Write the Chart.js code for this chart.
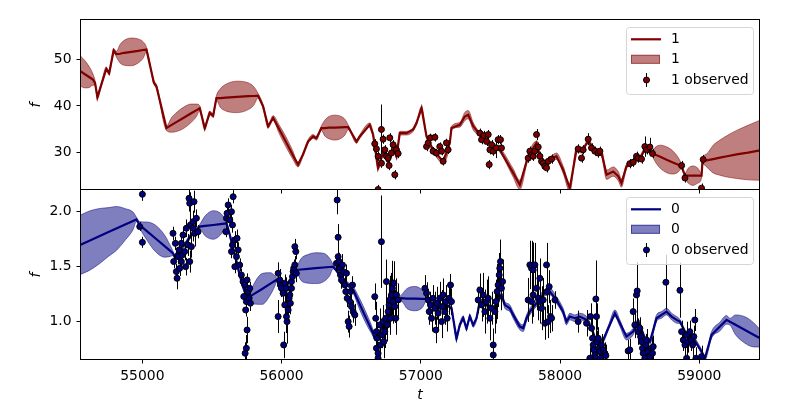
<!DOCTYPE html>
<html>
<head>
<meta charset="utf-8">
<script src="https://cdn.jsdelivr.net/npm/chart.js@4.4.1/dist/chart.umd.min.js"></script>
<style>
  html, body { margin: 0; padding: 0; background: #fff; }
  #wrap { position: relative; width: 800px; height: 400px; }
  #wrap canvas { position: absolute; left: 0; top: 0; }
</style>
</head>
<body>
<div id="wrap">
  <canvas id="top" width="800" height="400"></canvas>
  <canvas id="bottom" width="800" height="400"></canvas>
</div>
<script>
// ── axes ─────────────────────────────────────────────
const xMin = 54552, xMax = 59436;
const xTicks = [55000, 56000, 57000, 58000, 59000];
const xTickLabels = ['55000', '56000', '57000', '58000', '59000'];

const yRange1 = [21.8, 58.6];
const yTicks1 = [30, 40, 50];
const yTickLabels1 = ['30', '40', '50'];

const yRange0 = [0.648, 2.194];
const yTicks0 = [1.0, 1.5, 2.0];
const yTickLabels0 = ['1.0', '1.5', '2.0'];

// ── series "1" (top) : fitted mean and spread ────────
const fitT1 = [
  54552, 54590, 54620, 54645, 54660, 54677, 54705, 54741, 54761, 54794,
  54813, 54840, 54870, 54921, 54970, 55005, 55029, 55082, 55101, 55173,
  55210, 55250, 55300, 55350, 55390, 55412, 55448, 55484, 55508, 55532,
  55560, 55600, 55680, 55760, 55800, 55831, 55867, 55903, 55939, 55980,
  56030, 56080, 56118, 56154, 56190, 56226, 56250, 56286, 56310, 56340,
  56382, 56425, 56455, 56478, 56538, 56562, 56633, 56657, 56693, 56729,
  56765, 56801, 56825, 56849, 56897, 56945, 56969, 57005, 57041, 57088,
  57160, 57208, 57220, 57280, 57316, 57340, 57376, 57424, 57496, 57567,
  57663, 57711, 57771, 57831, 57855, 57891, 57927, 57974, 58022, 58070,
  58118, 58154, 58202, 58250, 58298, 58334, 58382, 58418, 58441, 58477,
  58525, 58573, 58609, 58657, 58690, 58720, 58765, 58810, 58845, 58873,
  58897, 58920, 58956, 58990, 59016, 59023, 59052, 59100, 59148, 59200,
  59268, 59350, 59436
];
const fitMean1 = [
  47.6, 46.8, 46.2, 45.7, 45.0, 41.9, 44.6, 48.0, 47.1, 52.0,
  51.2, 51.3, 51.5, 51.7, 51.9, 52.1, 52.2, 45.1, 44.2, 35.2,
  35.9, 36.6, 37.5, 38.4, 39.1, 39.5, 35.2, 38.5, 37.9, 41.7,
  41.7, 41.8, 41.95, 42.1, 42.15, 42.2, 39.9, 35.6, 37.4, 35.1,
  32.3, 29.4, 27.3, 29.5, 32.3, 33.4, 33.0, 35.2, 35.2, 35.3,
  35.3, 35.35, 35.4, 35.4, 32.3, 33.4, 35.9, 33.8, 26.6, 29.8,
  28.0, 31.2, 29.1, 34.1, 34.1, 34.9, 36.3, 39.5, 33.4, 30.5,
  28.0, 32.0, 35.2, 35.9, 37.7, 38.1, 35.6, 33.8, 32.0, 30.5,
  25.5, 22.9, 29.1, 32.0, 29.1, 27.3, 28.4, 29.1, 26.2, 22.2,
  30.5, 30.2, 32.3, 30.5, 29.8, 25.1, 25.8, 24.8, 23.3, 26.9,
  28.0, 28.7, 30.5, 29.8, 29.4, 29.0, 28.35, 27.75, 27.3, 26.9,
  24.9, 24.9, 24.9, 24.9, 24.9, 28.0, 28.2, 28.5, 28.8, 29.1,
  29.5, 29.9, 30.4
];
const fitSd1 = [
  3.3, 2.9, 2.2, 1.2, 0.5, 0.4, 0.4, 0.4, 0.4, 0.4,
  0.6, 2.0, 2.7, 3.0, 2.6, 1.8, 0.5, 0.4, 0.4, 0.5,
  1.6, 2.1, 2.3, 2.0, 1.3, 0.5, 0.4, 0.4, 0.4, 0.5,
  2.0, 2.9, 3.4, 2.9, 2.0, 0.5, 0.4, 0.4, 0.5, 0.9,
  1.1, 0.9, 0.5, 0.4, 0.4, 0.4, 0.4, 0.5, 1.7, 2.4,
  2.7, 2.4, 1.7, 0.5, 0.4, 0.4, 0.4, 0.4, 0.4, 0.4,
  0.4, 0.4, 0.4, 0.4, 0.4, 0.4, 0.4, 0.4, 0.4, 0.4,
  0.4, 0.4, 0.4, 0.5, 0.9, 0.9, 0.8, 0.4, 0.4, 0.5,
  0.9, 1.0, 0.5, 0.4, 0.4, 0.4, 0.4, 0.7, 0.8, 0.8,
  0.5, 0.4, 0.4, 0.4, 0.7, 1.0, 1.0, 1.0, 0.9, 0.5,
  0.4, 0.4, 0.4, 0.5, 1.8, 2.5, 2.8, 2.5, 1.7, 0.5,
  0.5, 1.6, 2.1, 1.6, 0.5, 0.5, 1.4, 3.0, 3.8, 4.5,
  5.2, 5.9, 6.5
];

// ── series "1" observations ──────────────────────────
const obsT1 = [
  56669, 56681, 56693, 56693, 56717, 56717, 56729, 56741, 56753, 56765,
  56772, 56777, 56789, 56801, 56813, 56825, 56837,
  57041, 57053, 57069, 57088, 57101, 57112, 57136, 57149, 57160, 57184, 57196,
  57424, 57436, 57452, 57472, 57484, 57491, 57496, 57508, 57520, 57543,
  57555, 57572, 57579,
  57771, 57783, 57795, 57807, 57819, 57831, 57843, 57855, 57867, 57879,
  57891, 57903, 57915, 57939,
  58130, 58154, 58166, 58202, 58226, 58250, 58274, 58286,
  58501, 58525, 58549, 58561, 58585, 58609, 58621, 58645, 58664,
  58873, 58897, 59016, 59028
];
const obsF1 = [
  31.8, 30.7, 29.1, 21.9, 34.9, 27.6, 32.8, 30.5, 29.1, 28.7,
  27.1, 33.1, 29.8, 31.6, 25.1, 30.5, 29.7,
  31.2, 32.0, 33.1, 30.2, 33.2, 29.8, 31.2, 30.2, 28.0, 32.0, 30.5,
  34.1, 32.7, 33.6, 32.3, 33.8, 27.3, 30.5, 31.6, 30.2, 30.9,
  32.7, 32.7, 30.9,
  28.7, 30.2, 29.4, 29.1, 30.2, 33.8, 31.1, 29.1, 28.0, 27.6,
  26.9, 26.6, 28.0, 28.5,
  30.7, 28.7, 30.5, 32.8, 30.9, 30.2, 29.8, 30.2,
  27.5, 27.8, 29.1, 28.7, 28.5, 31.2, 30.5, 31.1, 29.7,
  27.1, 24.4, 22.2, 28.4
];
const obsErr1 = [
  1.0, 1.2, 1.0, 1.0, 5.4, 1.0, 1.0, 1.0, 1.2, 1.0,
  1.0, 1.0, 1.0, 1.0, 1.0, 1.0, 1.0,
  1.0, 0.9, 0.9, 0.9, 0.9, 0.9, 0.9, 0.9, 0.9, 0.9, 0.9,
  1.0, 1.0, 1.0, 1.0, 1.0, 1.0, 1.0, 1.0, 1.0, 2.2,
  1.0, 1.0, 1.0,
  1.0, 1.0, 1.0, 1.0, 1.0, 1.2, 1.0, 1.0, 1.0, 1.0,
  1.0, 1.0, 1.0, 1.0,
  1.0, 1.0, 1.0, 1.3, 1.0, 1.0, 1.0, 1.0,
  1.0, 1.0, 1.0, 1.0, 1.0, 2.2, 1.0, 2.0, 1.0,
  1.0, 1.0, 1.0, 1.0
];

// ── series "0" (bottom) : fitted mean and spread ─────
const fitT0 = [
  54552, 54620, 54694, 54760, 54813, 54880, 54933, 54957, 54981, 55030,
  55093, 55160, 55200, 55220, 55232, 55268, 55304, 55328, 55352, 55388,
  55412, 55450, 55510, 55560, 55590, 55604, 55628, 55652, 55676, 55699,
  55735, 55771, 55800, 55860, 55920, 55950, 55963, 55987, 56023, 56059,
  56083, 56106, 56140, 56190, 56244, 56300, 56345, 56370, 56418, 56466,
  56514, 56560, 56610, 56657, 56669, 56693, 56729, 56765, 56801, 56837,
  56861, 56900, 56962, 57010, 57041, 57088, 57136, 57184, 57220, 57256,
  57280, 57304, 57328, 57352, 57376, 57400, 57424, 57472, 57520, 57555,
  57579, 57603, 57639, 57663, 57711, 57735, 57759, 57783, 57840, 57890,
  57927, 57974, 58022, 58046, 58070, 58106, 58142, 58190, 58226, 58262,
  58310, 58346, 58394, 58430, 58477, 58525, 58561, 58609, 58645, 58693,
  58729, 58765, 58801, 58837, 58861, 58909, 58956, 59016, 59040, 59088,
  59148, 59196, 59220, 59260, 59328, 59390, 59436
];
const fitMean0 = [
  1.694, 1.733, 1.776, 1.814, 1.844, 1.883, 1.913, 1.927, 1.876, 1.823,
  1.755, 1.683, 1.640, 1.618, 1.588, 1.664, 1.694, 1.740, 1.785, 1.831,
  1.861, 1.867, 1.876, 1.884, 1.889, 1.891, 1.785, 1.664, 1.543, 1.421,
  1.270, 1.224, 1.247, 1.294, 1.342, 1.366, 1.376, 1.330, 1.315, 1.361,
  1.422, 1.467, 1.471, 1.477, 1.483, 1.489, 1.494, 1.497, 1.422, 1.346,
  1.285, 1.158, 1.020, 0.891, 0.846, 0.876, 0.967, 1.088, 1.149, 1.194,
  1.210, 1.207, 1.206, 1.204, 1.203, 1.149, 1.119, 1.149, 1.119, 0.846,
  0.967, 1.028, 0.937, 1.043, 0.967, 1.028, 1.179, 1.149, 1.119, 1.179,
  1.240, 1.149, 1.119, 1.058, 0.952, 0.937, 1.028, 1.088, 1.180, 1.260,
  1.270, 1.194, 1.088, 0.997, 1.043, 1.028, 1.043, 1.013, 0.937, 0.815,
  0.831, 0.937, 1.073, 0.982, 0.861, 0.906, 0.998, 0.846, 0.815, 1.028,
  1.058, 1.088, 1.043, 1.013, 0.997, 0.876, 0.846, 0.725, 0.664, 0.876,
  0.952, 1.013, 0.996, 0.968, 0.921, 0.877, 0.846
];
const fitSd0 = [
  0.27, 0.27, 0.25, 0.22, 0.20, 0.14, 0.08, 0.02, 0.03, 0.08,
  0.12, 0.10, 0.05, 0.02, 0.02, 0.02, 0.02, 0.02, 0.02, 0.02,
  0.02, 0.09, 0.13, 0.10, 0.05, 0.02, 0.02, 0.02, 0.02, 0.02,
  0.02, 0.03, 0.09, 0.14, 0.10, 0.05, 0.02, 0.02, 0.02, 0.02,
  0.02, 0.02, 0.10, 0.13, 0.14, 0.13, 0.08, 0.02, 0.02, 0.02,
  0.03, 0.05, 0.05, 0.03, 0.02, 0.02, 0.02, 0.02, 0.02, 0.02,
  0.03, 0.09, 0.11, 0.08, 0.02, 0.02, 0.02, 0.02, 0.02, 0.02,
  0.02, 0.02, 0.02, 0.02, 0.02, 0.02, 0.02, 0.02, 0.02, 0.02,
  0.02, 0.03, 0.03, 0.03, 0.03, 0.03, 0.03, 0.03, 0.03, 0.03,
  0.03, 0.03, 0.03, 0.03, 0.03, 0.03, 0.03, 0.03, 0.02, 0.02,
  0.02, 0.02, 0.03, 0.03, 0.03, 0.03, 0.02, 0.02, 0.02, 0.03,
  0.03, 0.03, 0.03, 0.03, 0.02, 0.02, 0.02, 0.02, 0.02, 0.03,
  0.04, 0.04, 0.03, 0.09, 0.12, 0.11, 0.08
];

// ── series "0" observations ──────────────────────────
const obsT0 = [
  55000, 54981, 55000,
  55220, 55225, 55237, 55244, 55249, 55256, 55264, 55268, 55280, 55280,
  55287, 55292, 55304, 55311, 55316, 55328, 55335, 55340, 55340, 55345,
  55352, 55364, 55364, 55371, 55376, 55388, 55400,
  55599, 55604, 55608, 55616, 55628, 55640, 55647, 55652, 55640, 55647,
  55664, 55664, 55676, 55680, 55688, 55699, 55711, 55723, 55735, 55728,
  55742, 55747, 55752, 55759, 55767, 55771, 55776, 55752, 55747, 55738,
  55975, 55975, 55987, 55991, 55999, 56011, 56015, 56023, 56023, 56035,
  56035, 56039, 56047, 56054, 56059, 56063, 56071, 56071, 56078, 56083,
  56087, 56095, 56095, 56102, 56106,
  56394, 56399, 56406, 56406, 56413, 56418, 56423, 56430, 56437, 56442,
  56454, 56461, 56466, 56471, 56478, 56485, 56490, 56495, 56502, 56509,
  56514, 56526,
  56669, 56676, 56681, 56681, 56686, 56693, 56693, 56705, 56710, 56717,
  56724, 56729, 56734, 56741, 56748, 56753, 56758, 56765, 56772, 56777,
  56782, 56789, 56796, 56801, 56806, 56813, 56820, 56825, 56837,
  57029, 57041, 57053, 57060, 57069, 57077, 57088, 57101, 57108, 57117,
  57124, 57136, 57149, 57155, 57160, 57172, 57179, 57189, 57203, 57213,
  57220,
  57412, 57424, 57436, 57448, 57460, 57472, 57484, 57496, 57508, 57520,
  57520, 57532, 57539, 57548, 57555, 57563, 57567, 57572, 57579, 57587,
  57771, 57783, 57795, 57795, 57807, 57807, 57819, 57831, 57843, 57855,
  57859, 57867, 57879, 57891, 57903, 57907, 57915, 57922, 57931, 57939,
  57963,
  58130, 58190, 58214, 58219, 58226, 58233, 58238, 58243, 58250, 58257,
  58257, 58262, 58267, 58274, 58281, 58286, 58291, 58298, 58310, 58322,
  58329,
  58489, 58501, 58525, 58537, 58549, 58554, 58561, 58573, 58578, 58585,
  58592, 58597, 58609, 58616, 58621, 58633, 58645, 58657, 58664, 58669,
  58760, 58861,
  58873, 58885, 58897, 58909, 58909, 58920, 58932, 58944, 58952, 58961,
  58968, 58976, 59016
];
const obsF0 = [
  2.155, 1.861, 1.718,
  1.800, 1.543, 1.709, 1.452, 1.391, 1.588, 1.649, 1.482, 1.709, 1.543,
  1.603, 1.785, 1.634, 1.497, 1.846, 1.694, 2.118, 2.073, 1.543, 1.876,
  1.679, 1.846, 1.906, 2.088, 1.800, 1.937, 1.815,
  1.815, 1.937, 1.982, 2.058, 1.921, 1.997, 1.876, 2.133, 1.634, 1.694,
  1.740, 1.497, 1.588, 1.755, 1.649, 1.512, 1.421, 1.361, 1.331, 1.225,
  1.103, 1.179, 1.376, 1.270, 1.209, 1.300, 1.164, 0.921, 0.755, 0.709,
  1.436, 1.043, 1.376, 1.330, 1.300, 1.255, 0.785, 1.346, 1.149, 1.300,
  1.043, 0.997, 1.103, 1.209, 1.240, 1.164, 1.300, 1.361, 1.406, 1.452,
  1.482, 1.513, 1.679, 1.634, 1.436,
  1.527, 2.103, 1.764, 1.588, 1.543, 1.482, 1.421, 1.376, 1.512, 1.452,
  1.330, 1.270, 1.437, 1.209, 0.997, 0.952, 1.179, 1.270, 1.134, 1.330,
  1.088, 1.058,
  1.224, 1.027, 0.906, 0.755, 0.846, 0.709, 0.664, 0.967, 0.785, 1.724,
  0.876, 0.997, 0.815, 0.906, 1.027, 1.361, 0.967, 1.088, 1.149, 1.194,
  1.027, 1.240, 1.300, 1.179, 1.346, 1.134, 1.027, 1.240, 1.194,
  1.300, 1.255, 1.194, 1.088, 1.149, 1.027, 1.209, 1.119, 0.921, 1.164,
  1.073, 1.209, 0.997, 1.134, 1.240, 1.088, 1.179, 1.027, 1.209, 1.330,
  1.179,
  1.194, 1.285, 1.149, 1.240, 1.088, 1.179, 1.209, 1.027, 1.119, 0.785,
  0.694, 1.088, 1.179, 1.270, 1.330, 1.421, 1.482, 1.543, 1.300, 1.361,
  1.194, 1.513, 1.482, 1.179, 1.467, 1.240, 1.513, 1.300, 1.209, 1.391,
  1.179, 1.119, 1.194, 0.982, 1.513, 1.270, 0.997, 1.315, 1.043, 1.028,
  1.194,
  0.997, 0.982, 0.664, 1.043, 0.937, 0.846, 0.785, 0.740, 0.694, 1.203,
  0.664, 1.043, 0.815, 0.846, 0.755, 0.724, 0.664, 0.785, 0.740, 0.709,
  0.688,
  0.730, 0.740, 1.088, 0.967, 1.240, 1.276, 0.906, 0.937, 0.861, 0.815,
  0.755, 0.709, 0.664, 0.785, 0.830, 0.724, 0.679, 0.755, 0.709, 0.770,
  1.355, 1.282,
  0.906, 0.830, 0.785, 0.876, 0.664, 0.815, 0.906, 0.830, 0.785, 0.861,
  1.012, 0.664, 0.679
];
const obsErr0 = [
  0.06, 0.04, 0.05,
  0.06, 0.06, 0.06, 0.07, 0.10, 0.07, 0.06, 0.07, 0.06, 0.07,
  0.06, 0.06, 0.08, 0.08, 0.08, 0.10, 0.12, 0.10, 0.10, 0.12,
  0.10, 0.12, 0.10, 0.10, 0.12, 0.08, 0.06,
  0.05, 0.05, 0.06, 0.06, 0.06, 0.06, 0.07, 0.06, 0.06, 0.07,
  0.08, 0.06, 0.07, 0.08, 0.07, 0.06, 0.06, 0.06, 0.06, 0.06,
  0.06, 0.06, 0.06, 0.06, 0.07, 0.06, 0.07, 0.12, 0.12, 0.10,
  0.10, 0.15, 0.10, 0.08, 0.08, 0.08, 0.12, 0.08, 0.10, 0.10,
  0.15, 0.20, 0.10, 0.10, 0.10, 0.10, 0.10, 0.08, 0.08, 0.08,
  0.08, 0.08, 0.07, 0.07, 0.08,
  0.08, 0.13, 0.12, 0.10, 0.08, 0.10, 0.08, 0.08, 0.10, 0.08,
  0.08, 0.08, 0.08, 0.08, 0.10, 0.10, 0.08, 0.08, 0.08, 0.08,
  0.10, 0.10,
  0.12, 0.15, 0.12, 0.12, 0.15, 0.10, 0.10, 0.15, 0.15, 0.42,
  0.12, 0.15, 0.15, 0.15, 0.15, 0.20, 0.15, 0.15, 0.20, 0.22,
  0.15, 0.20, 0.25, 0.20, 0.20, 0.15, 0.15, 0.15, 0.15,
  0.12, 0.10, 0.10, 0.12, 0.12, 0.12, 0.12, 0.15, 0.12, 0.15,
  0.15, 0.15, 0.15, 0.15, 0.15, 0.12, 0.15, 0.12, 0.15, 0.10,
  0.12,
  0.12, 0.15, 0.15, 0.20, 0.20, 0.20, 0.20, 0.20, 0.15, 0.15,
  0.12, 0.20, 0.20, 0.25, 0.20, 0.20, 0.20, 0.20, 0.20, 0.20,
  0.20, 0.22, 0.25, 0.20, 0.25, 0.20, 0.20, 0.20, 0.20, 0.18,
  0.20, 0.20, 0.20, 0.15, 0.20, 0.20, 0.15, 0.15, 0.15, 0.12,
  0.08,
  0.10, 0.12, 0.10, 0.12, 0.10, 0.10, 0.10, 0.10, 0.10, 0.35,
  0.10, 0.12, 0.10, 0.10, 0.10, 0.10, 0.10, 0.10, 0.10, 0.10,
  0.10,
  0.10, 0.10, 0.12, 0.12, 0.30, 0.20, 0.12, 0.10, 0.10, 0.10,
  0.10, 0.10, 0.10, 0.10, 0.10, 0.10, 0.10, 0.10, 0.10, 0.10,
  0.25, 0.25,
  0.10, 0.10, 0.10, 0.12, 0.10, 0.10, 0.10, 0.10, 0.10, 0.10,
  0.10, 0.10, 0.10
];

// ── helpers ──────────────────────────────────────────
const FONT = { family: 'DejaVu Sans', size: 13.9 };
Chart.defaults.font.family = FONT.family;
Chart.defaults.font.size = FONT.size;
Chart.defaults.color = '#000';

const pts = (xs, ys) => xs.map((x, i) => ({ x, y: ys[i] }));

// vertical error bars, drawn just before the marker dataset
const errorBars = {
  id: 'errorBars',
  beforeDatasetDraw(chart, args) {
    const ds = chart.data.datasets[args.index];
    if (!ds.errors) return;
    const { ctx, chartArea: a, scales: { x, y } } = chart;
    ctx.save();
    ctx.beginPath();
    ctx.rect(a.left, a.top, a.width, a.height);
    ctx.clip();
    ctx.strokeStyle = '#000';
    ctx.lineWidth = 1;
    ds.data.forEach((p, i) => {
      const px = Math.round(x.getPixelForValue(p.x)) + 0.5;
      ctx.beginPath();
      ctx.moveTo(px, y.getPixelForValue(p.y - ds.errors[i]));
      ctx.lineTo(px, y.getPixelForValue(p.y + ds.errors[i]));
      ctx.stroke();
    });
    ctx.restore();
  }
};

// matplotlib style box around the plot (shared edge lands on the same pixel row)
const frame = {
  id: 'frame',
  afterDatasetsDraw(chart) {
    const { ctx, chartArea: a } = chart;
    ctx.save();
    ctx.strokeStyle = '#000';
    ctx.lineWidth = 1;
    ctx.strokeRect(Math.round(a.left) + 0.5, Math.round(a.top) - 0.5,
                   Math.round(a.width) - 1, Math.round(a.height));
    ctx.restore();
  }
};

// legend box in the upper right corner
const boxLegend = {
  id: 'boxLegend',
  afterDraw(chart, args, o) {
    const ds = chart.data.datasets;
    const { ctx } = chart;
    const x = o.x, y = o.y, w = 127, h = 67;
    const rows = [y + 12.3, y + 32.3, y + 53];
    ctx.save();
    ctx.beginPath();
    ctx.roundRect(x + 0.5, y + 0.5, w, h, 3);
    ctx.fillStyle = 'rgba(255,255,255,0.8)';
    ctx.fill();
    ctx.strokeStyle = '#d6d6d6';
    ctx.lineWidth = 1;
    ctx.stroke();

    ctx.strokeStyle = ds[1].borderColor;
    ctx.lineWidth = 2.2;
    ctx.beginPath();
    ctx.moveTo(x + 5, rows[0]);
    ctx.lineTo(x + 35, rows[0]);
    ctx.stroke();

    ctx.fillStyle = ds[2].backgroundColor;
    ctx.fillRect(x + 5, rows[1] - 4.5, 29, 9);
    ctx.strokeStyle = ds[2].borderColor;
    ctx.lineWidth = 1;
    ctx.strokeRect(x + 5.5, rows[1] - 4, 28, 8);

    ctx.strokeStyle = '#000';
    ctx.beginPath();
    ctx.moveTo(x + 20.5, rows[2] - 7);
    ctx.lineTo(x + 20.5, rows[2] + 7);
    ctx.stroke();
    ctx.beginPath();
    ctx.arc(x + 20.5, rows[2], 3, 0, Math.PI * 2);
    ctx.fillStyle = ds[0].pointBackgroundColor;
    ctx.fill();
    ctx.stroke();

    ctx.fillStyle = '#000';
    ctx.font = FONT.size + 'px "' + FONT.family + '"';
    ctx.textBaseline = 'middle';
    [ds[1].label, ds[2].label, ds[0].label].forEach((s, i) => ctx.fillText(s, x + 45, rows[i]));
    ctx.restore();
  }
};

function panel(id, o) {
  const upper = o.mean.map((m, i) => m + o.sd[i]);
  const lower = o.mean.map((m, i) => m - o.sd[i]);
  return new Chart(document.getElementById(id), {
    type: 'line',
    data: {
      datasets: [
        { label: o.name + ' observed', data: pts(o.obsT, o.obsF), errors: o.obsErr,
          showLine: false, pointRadius: 3, pointBorderWidth: 1,
          pointBackgroundColor: o.color, pointBorderColor: '#000', order: 0, clip: 0 },
        { label: o.name, data: pts(o.fitT, o.mean), borderColor: o.color, borderWidth: 2.2,
          pointRadius: 0, fill: false, order: 1, clip: 0 },
        { label: o.name, data: pts(o.fitT, upper), borderColor: o.band, backgroundColor: o.band,
          borderWidth: 1, pointRadius: 0, fill: '+1', cubicInterpolationMode: 'monotone', order: 2, clip: 0 },
        { label: o.name, data: pts(o.fitT, lower), borderColor: o.band, borderWidth: 1,
          pointRadius: 0, fill: false, cubicInterpolationMode: 'monotone', order: 3, clip: 0 }
      ]
    },
    options: {
      responsive: false,
      animation: false,
      events: [],
      layout: { padding: o.padding },
      plugins: {
        legend: { display: false },
        tooltip: { enabled: false },
        boxLegend: { x: 626, y: o.legendY }
      },
      scales: {
        x: {
          type: 'linear', min: xMin, max: xMax,
          afterBuildTicks: s => { s.ticks = xTicks.map(v => ({ value: v })); },
          afterFit: s => { s.height = o.xHeight; },
          ticks: { color: o.showX ? '#000' : 'rgba(0,0,0,0)', padding: 5, maxRotation: 0,
                   autoSkip: false, callback: (v, i) => xTickLabels[i] },
          grid: { drawOnChartArea: false, tickLength: 3.5, tickColor: '#000', tickWidth: 1 },
          border: { display: false },
          title: { display: o.showX, text: 't', color: '#000',
                   font: { family: FONT.family, size: FONT.size, style: 'italic' },
                   padding: { top: 0, bottom: -4 } }
        },
        y: {
          type: 'linear', position: 'left', min: o.yRange[0], max: o.yRange[1],
          afterBuildTicks: s => { s.ticks = o.yTicks.map(v => ({ value: v })); },
          afterFit: s => { s.width = 80; },
          ticks: { padding: 5, callback: (v, i) => o.yTickLabels[i] },
          grid: { drawOnChartArea: false, tickLength: 3.5, tickColor: '#000', tickWidth: 1 },
          border: { display: false },
          title: { display: true, text: 'f', color: '#000',
                   font: { family: FONT.family, size: FONT.size, style: 'italic' },
                   padding: { top: 28, bottom: 0 } }
        }
      }
    },
    plugins: [errorBars, frame, boxLegend]
  });
}

panel('top', {
  name: '1', color: '#800000', band: 'rgba(128,0,0,0.5)',
  fitT: fitT1, mean: fitMean1, sd: fitSd1,
  obsT: obsT1, obsF: obsF1, obsErr: obsErr1,
  yRange: yRange1, yTicks: yTicks1, yTickLabels: yTickLabels1,
  padding: { top: 20, right: 40, bottom: 200, left: 0 },
  xHeight: 10, showX: false, legendY: 27
});

panel('bottom', {
  name: '0', color: '#000080', band: 'rgba(0,0,128,0.5)',
  fitT: fitT0, mean: fitMean0, sd: fitSd0,
  obsT: obsT0, obsF: obsF0, obsErr: obsErr0,
  yRange: yRange0, yTicks: yTicks0, yTickLabels: yTickLabels0,
  padding: { top: 190, right: 40, bottom: 0, left: 0 },
  xHeight: 40, showX: true, legendY: 197
});
</script>
</body>
</html>
